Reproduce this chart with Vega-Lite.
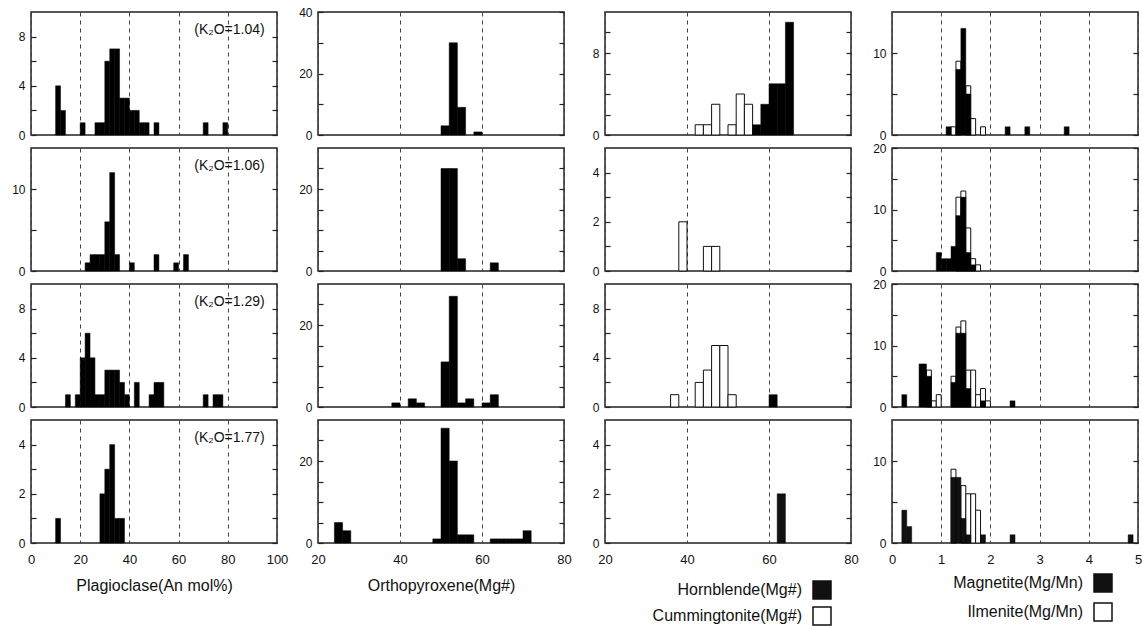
{
"$schema":"https://vega.github.io/schema/vega-lite/v6.json",
"padding":{"left":10,"top":5,"right":2,"bottom":2},
"background":"white",
"datasets":{"labels":[{"p":"pl1","t":"(K₂O=1.04)"},{"p":"pl2","t":"(K₂O=1.06)"},{"p":"pl3","t":"(K₂O=1.29)"},{"p":"pl4","t":"(K₂O=1.77)"}],
"d":[
{"p":"pl1","m":"Pl","x0":10,"x1":12,"n":4},{"p":"pl1","m":"Pl","x0":12,"x1":14,"n":2},{"p":"pl1","m":"Pl","x0":20,"x1":22,"n":1},{"p":"pl1","m":"Pl","x0":26,"x1":28,"n":1},{"p":"pl1","m":"Pl","x0":28,"x1":30,"n":1},{"p":"pl1","m":"Pl","x0":30,"x1":32,"n":6},{"p":"pl1","m":"Pl","x0":32,"x1":34,"n":7},{"p":"pl1","m":"Pl","x0":34,"x1":36,"n":7},{"p":"pl1","m":"Pl","x0":36,"x1":38,"n":3},{"p":"pl1","m":"Pl","x0":38,"x1":40,"n":3},{"p":"pl1","m":"Pl","x0":40,"x1":42,"n":2},{"p":"pl1","m":"Pl","x0":42,"x1":44,"n":2},{"p":"pl1","m":"Pl","x0":44,"x1":46,"n":1},{"p":"pl1","m":"Pl","x0":46,"x1":48,"n":1},{"p":"pl1","m":"Pl","x0":50,"x1":52,"n":1},{"p":"pl1","m":"Pl","x0":70,"x1":72,"n":1},{"p":"pl1","m":"Pl","x0":78,"x1":80,"n":1},
{"p":"pl2","m":"Pl","x0":22,"x1":24,"n":1},{"p":"pl2","m":"Pl","x0":24,"x1":26,"n":2},{"p":"pl2","m":"Pl","x0":26,"x1":28,"n":2},{"p":"pl2","m":"Pl","x0":28,"x1":30,"n":2},{"p":"pl2","m":"Pl","x0":30,"x1":32,"n":6},{"p":"pl2","m":"Pl","x0":32,"x1":34,"n":12},{"p":"pl2","m":"Pl","x0":34,"x1":36,"n":2},{"p":"pl2","m":"Pl","x0":40,"x1":42,"n":1},{"p":"pl2","m":"Pl","x0":50,"x1":52,"n":2},{"p":"pl2","m":"Pl","x0":58,"x1":60,"n":1},{"p":"pl2","m":"Pl","x0":62,"x1":64,"n":2},
{"p":"pl3","m":"Pl","x0":14,"x1":16,"n":1},{"p":"pl3","m":"Pl","x0":18,"x1":20,"n":1},{"p":"pl3","m":"Pl","x0":20,"x1":22,"n":4},{"p":"pl3","m":"Pl","x0":22,"x1":24,"n":6},{"p":"pl3","m":"Pl","x0":24,"x1":26,"n":4},{"p":"pl3","m":"Pl","x0":26,"x1":28,"n":1},{"p":"pl3","m":"Pl","x0":28,"x1":30,"n":1},{"p":"pl3","m":"Pl","x0":30,"x1":32,"n":3},{"p":"pl3","m":"Pl","x0":32,"x1":34,"n":3},{"p":"pl3","m":"Pl","x0":34,"x1":36,"n":3},{"p":"pl3","m":"Pl","x0":36,"x1":38,"n":2},{"p":"pl3","m":"Pl","x0":38,"x1":40,"n":1},{"p":"pl3","m":"Pl","x0":42,"x1":44,"n":2},{"p":"pl3","m":"Pl","x0":48,"x1":50,"n":1},{"p":"pl3","m":"Pl","x0":50,"x1":52,"n":2},{"p":"pl3","m":"Pl","x0":52,"x1":54,"n":2},{"p":"pl3","m":"Pl","x0":70,"x1":72,"n":1},{"p":"pl3","m":"Pl","x0":74,"x1":76,"n":1},{"p":"pl3","m":"Pl","x0":76,"x1":78,"n":1},
{"p":"pl4","m":"Pl","x0":10,"x1":12,"n":1},{"p":"pl4","m":"Pl","x0":28,"x1":30,"n":2},{"p":"pl4","m":"Pl","x0":30,"x1":32,"n":3},{"p":"pl4","m":"Pl","x0":32,"x1":34,"n":4},{"p":"pl4","m":"Pl","x0":34,"x1":36,"n":1},{"p":"pl4","m":"Pl","x0":36,"x1":38,"n":1},
{"p":"opx1","m":"Opx","x0":50,"x1":52,"n":3},{"p":"opx1","m":"Opx","x0":52,"x1":54,"n":30},{"p":"opx1","m":"Opx","x0":54,"x1":56,"n":9},{"p":"opx1","m":"Opx","x0":58,"x1":60,"n":1},
{"p":"opx2","m":"Opx","x0":50,"x1":52,"n":25},{"p":"opx2","m":"Opx","x0":52,"x1":54,"n":25},{"p":"opx2","m":"Opx","x0":54,"x1":56,"n":3},{"p":"opx2","m":"Opx","x0":62,"x1":64,"n":2},
{"p":"opx3","m":"Opx","x0":38,"x1":40,"n":1},{"p":"opx3","m":"Opx","x0":42,"x1":44,"n":2},{"p":"opx3","m":"Opx","x0":44,"x1":46,"n":1},{"p":"opx3","m":"Opx","x0":50,"x1":52,"n":11},{"p":"opx3","m":"Opx","x0":52,"x1":54,"n":27},{"p":"opx3","m":"Opx","x0":54,"x1":56,"n":1},{"p":"opx3","m":"Opx","x0":56,"x1":58,"n":2},{"p":"opx3","m":"Opx","x0":60,"x1":62,"n":1},{"p":"opx3","m":"Opx","x0":62,"x1":64,"n":3},
{"p":"opx4","m":"Opx","x0":24,"x1":26,"n":5},{"p":"opx4","m":"Opx","x0":26,"x1":28,"n":3},{"p":"opx4","m":"Opx","x0":48,"x1":50,"n":1},{"p":"opx4","m":"Opx","x0":50,"x1":52,"n":28},{"p":"opx4","m":"Opx","x0":52,"x1":54,"n":20},{"p":"opx4","m":"Opx","x0":54,"x1":56,"n":2},{"p":"opx4","m":"Opx","x0":56,"x1":58,"n":2},{"p":"opx4","m":"Opx","x0":62,"x1":64,"n":1},{"p":"opx4","m":"Opx","x0":64,"x1":66,"n":1},{"p":"opx4","m":"Opx","x0":66,"x1":68,"n":1},{"p":"opx4","m":"Opx","x0":68,"x1":70,"n":1},{"p":"opx4","m":"Opx","x0":70,"x1":72,"n":3},
{"p":"hb1","m":"Cummingtonite(Mg#)","x0":42,"x1":44,"n":1},{"p":"hb1","m":"Cummingtonite(Mg#)","x0":44,"x1":46,"n":1},{"p":"hb1","m":"Cummingtonite(Mg#)","x0":46,"x1":48,"n":3},{"p":"hb1","m":"Cummingtonite(Mg#)","x0":50,"x1":52,"n":1},{"p":"hb1","m":"Cummingtonite(Mg#)","x0":52,"x1":54,"n":4},{"p":"hb1","m":"Cummingtonite(Mg#)","x0":54,"x1":56,"n":3},
{"p":"hb1","m":"Hornblende(Mg#)","x0":56,"x1":58,"n":1},{"p":"hb1","m":"Hornblende(Mg#)","x0":58,"x1":60,"n":3},{"p":"hb1","m":"Hornblende(Mg#)","x0":60,"x1":62,"n":5},{"p":"hb1","m":"Hornblende(Mg#)","x0":62,"x1":64,"n":5},{"p":"hb1","m":"Hornblende(Mg#)","x0":64,"x1":66,"n":11},
{"p":"hb2","m":"Cummingtonite(Mg#)","x0":38,"x1":40,"n":2},{"p":"hb2","m":"Cummingtonite(Mg#)","x0":44,"x1":46,"n":1},{"p":"hb2","m":"Cummingtonite(Mg#)","x0":46,"x1":48,"n":1},
{"p":"hb3","m":"Cummingtonite(Mg#)","x0":36,"x1":38,"n":1},{"p":"hb3","m":"Cummingtonite(Mg#)","x0":42,"x1":44,"n":2},{"p":"hb3","m":"Cummingtonite(Mg#)","x0":44,"x1":46,"n":3},{"p":"hb3","m":"Cummingtonite(Mg#)","x0":46,"x1":48,"n":5},{"p":"hb3","m":"Cummingtonite(Mg#)","x0":48,"x1":50,"n":5},{"p":"hb3","m":"Cummingtonite(Mg#)","x0":50,"x1":52,"n":1},{"p":"hb3","m":"Hornblende(Mg#)","x0":60,"x1":62,"n":1},
{"p":"hb4","m":"Hornblende(Mg#)","x0":62,"x1":64,"n":2},
{"p":"mt1","m":"Magnetite(Mg/Mn)","x0":1.1,"x1":1.2,"n":1},{"p":"mt1","m":"Magnetite(Mg/Mn)","x0":1.3,"x1":1.4,"n":8},{"p":"mt1","m":"Magnetite(Mg/Mn)","x0":1.4,"x1":1.5,"n":13},{"p":"mt1","m":"Magnetite(Mg/Mn)","x0":1.5,"x1":1.6,"n":5},{"p":"mt1","m":"Magnetite(Mg/Mn)","x0":2.3,"x1":2.4,"n":1},{"p":"mt1","m":"Magnetite(Mg/Mn)","x0":2.7,"x1":2.8,"n":1},{"p":"mt1","m":"Magnetite(Mg/Mn)","x0":3.5,"x1":3.6,"n":1},
{"p":"mt1","m":"Ilmenite(Mg/Mn)","x0":1.2,"x1":1.3,"n":1},{"p":"mt1","m":"Ilmenite(Mg/Mn)","x0":1.3,"x1":1.4,"n":9},{"p":"mt1","m":"Ilmenite(Mg/Mn)","x0":1.5,"x1":1.6,"n":6},{"p":"mt1","m":"Ilmenite(Mg/Mn)","x0":1.6,"x1":1.7,"n":2},{"p":"mt1","m":"Ilmenite(Mg/Mn)","x0":1.8,"x1":1.9,"n":1},
{"p":"mt2","m":"Magnetite(Mg/Mn)","x0":0.9,"x1":1.0,"n":3},{"p":"mt2","m":"Magnetite(Mg/Mn)","x0":1.0,"x1":1.1,"n":2},{"p":"mt2","m":"Magnetite(Mg/Mn)","x0":1.1,"x1":1.2,"n":2},{"p":"mt2","m":"Magnetite(Mg/Mn)","x0":1.2,"x1":1.3,"n":4},{"p":"mt2","m":"Magnetite(Mg/Mn)","x0":1.3,"x1":1.4,"n":9},{"p":"mt2","m":"Magnetite(Mg/Mn)","x0":1.4,"x1":1.5,"n":12},{"p":"mt2","m":"Magnetite(Mg/Mn)","x0":1.5,"x1":1.6,"n":3},{"p":"mt2","m":"Magnetite(Mg/Mn)","x0":1.6,"x1":1.7,"n":1},
{"p":"mt2","m":"Ilmenite(Mg/Mn)","x0":1.3,"x1":1.4,"n":12},{"p":"mt2","m":"Ilmenite(Mg/Mn)","x0":1.4,"x1":1.5,"n":13},{"p":"mt2","m":"Ilmenite(Mg/Mn)","x0":1.5,"x1":1.6,"n":7},{"p":"mt2","m":"Ilmenite(Mg/Mn)","x0":1.6,"x1":1.7,"n":2},{"p":"mt2","m":"Ilmenite(Mg/Mn)","x0":1.7,"x1":1.8,"n":1},
{"p":"mt3","m":"Magnetite(Mg/Mn)","x0":0.2,"x1":0.3,"n":2},{"p":"mt3","m":"Magnetite(Mg/Mn)","x0":0.55,"x1":0.7,"n":7},{"p":"mt3","m":"Magnetite(Mg/Mn)","x0":0.7,"x1":0.8,"n":5},{"p":"mt3","m":"Magnetite(Mg/Mn)","x0":1.2,"x1":1.3,"n":4},{"p":"mt3","m":"Magnetite(Mg/Mn)","x0":1.3,"x1":1.4,"n":12},{"p":"mt3","m":"Magnetite(Mg/Mn)","x0":1.4,"x1":1.5,"n":12},{"p":"mt3","m":"Magnetite(Mg/Mn)","x0":1.5,"x1":1.6,"n":3},{"p":"mt3","m":"Magnetite(Mg/Mn)","x0":1.8,"x1":1.9,"n":1},{"p":"mt3","m":"Magnetite(Mg/Mn)","x0":2.4,"x1":2.5,"n":1},
{"p":"mt3","m":"Ilmenite(Mg/Mn)","x0":0.7,"x1":0.8,"n":6},{"p":"mt3","m":"Ilmenite(Mg/Mn)","x0":0.8,"x1":0.9,"n":1},{"p":"mt3","m":"Ilmenite(Mg/Mn)","x0":0.9,"x1":1.0,"n":2},{"p":"mt3","m":"Ilmenite(Mg/Mn)","x0":1.2,"x1":1.3,"n":5},{"p":"mt3","m":"Ilmenite(Mg/Mn)","x0":1.3,"x1":1.4,"n":13},{"p":"mt3","m":"Ilmenite(Mg/Mn)","x0":1.4,"x1":1.5,"n":14},{"p":"mt3","m":"Ilmenite(Mg/Mn)","x0":1.5,"x1":1.6,"n":6},{"p":"mt3","m":"Ilmenite(Mg/Mn)","x0":1.6,"x1":1.7,"n":6},{"p":"mt3","m":"Ilmenite(Mg/Mn)","x0":1.7,"x1":1.8,"n":2},{"p":"mt3","m":"Ilmenite(Mg/Mn)","x0":1.8,"x1":1.9,"n":3},{"p":"mt3","m":"Ilmenite(Mg/Mn)","x0":1.9,"x1":2.0,"n":1},
{"p":"mt4","m":"Magnetite(Mg/Mn)","x0":0.2,"x1":0.3,"n":4},{"p":"mt4","m":"Magnetite(Mg/Mn)","x0":0.3,"x1":0.4,"n":2},{"p":"mt4","m":"Magnetite(Mg/Mn)","x0":1.2,"x1":1.3,"n":8},{"p":"mt4","m":"Magnetite(Mg/Mn)","x0":1.3,"x1":1.4,"n":8},{"p":"mt4","m":"Magnetite(Mg/Mn)","x0":1.4,"x1":1.5,"n":3},{"p":"mt4","m":"Magnetite(Mg/Mn)","x0":1.5,"x1":1.6,"n":1},{"p":"mt4","m":"Magnetite(Mg/Mn)","x0":1.8,"x1":1.9,"n":1},{"p":"mt4","m":"Magnetite(Mg/Mn)","x0":2.4,"x1":2.5,"n":1},{"p":"mt4","m":"Magnetite(Mg/Mn)","x0":4.8,"x1":4.9,"n":1},
{"p":"mt4","m":"Ilmenite(Mg/Mn)","x0":1.2,"x1":1.3,"n":9},{"p":"mt4","m":"Ilmenite(Mg/Mn)","x0":1.4,"x1":1.5,"n":7},{"p":"mt4","m":"Ilmenite(Mg/Mn)","x0":1.5,"x1":1.6,"n":6},{"p":"mt4","m":"Ilmenite(Mg/Mn)","x0":1.6,"x1":1.7,"n":6},{"p":"mt4","m":"Ilmenite(Mg/Mn)","x0":1.7,"x1":1.8,"n":4}
]},
"data":{"name":"d"},
"columns":4,
"spacing":{"row":13,"column":41},
"bounds":"flush",
"concat":[
{"width":246,"height":123,"transform":[{"filter":"datum.p=='pl1'"}],"layer":[
 {"transform":[{"filter":"false"}],"mark":{"type":"bar","fill":"#fff","stroke":"#111","strokeWidth":1},"encoding":{"x":{"field":"x0","type":"quantitative","scale":{"domain":[0,100],"nice":false,"zero":false},"axis":{"values":[0,20,40,60,80,100],"labels":false,"title":null}},"x2":{"field":"x1"},"y":{"field":"n","type":"quantitative","scale":{"domain":[0,10],"nice":false},"axis":{"orient":"right","values":[0,2,4,6,8],"labels":false,"title":null}},"y2":{"datum":0}}},
 {"mark":{"type":"bar","fill":"#000","stroke":"#000","strokeWidth":0.5},"encoding":{"x":{"field":"x0","type":"quantitative","scale":{"domain":[0,100],"nice":false,"zero":false},"axis":{"values":[0,20,40,60,80,100],"labels":false,"title":null}},"x2":{"field":"x1"},"y":{"field":"n","type":"quantitative","scale":{"domain":[0,10],"nice":false},"axis":{"values":[0,2,4,6,8],"labelExpr":"datum.value % 4 == 0 ? datum.label : ''","title":null}},"y2":{"datum":0}}},
 {"data":{"name":"labels"},"transform":[{"filter":"datum.p=='pl1'"}],"mark":{"type":"text","align":"right","baseline":"middle","dy":18,"fontSize":14,"fill":"#111","fontWeight":"normal"},"encoding":{"x":{"datum":95,"type":"quantitative","axis":{"values":[0,20,40,60,80,100],"labels":false,"title":null}},"y":{"datum":10,"type":"quantitative","axis":null},"text":{"field":"t"}}}
],"resolve":{"axis":{"y":"independent"}}},
{"width":246,"height":123,"transform":[{"filter":"datum.p=='opx1'"}],"layer":[
 {"transform":[{"filter":"false"}],"mark":{"type":"bar","fill":"#fff","stroke":"#111","strokeWidth":1},"encoding":{"x":{"field":"x0","type":"quantitative","scale":{"domain":[20,80],"nice":false,"zero":false},"axis":{"values":[20,40,60,80],"labels":false,"title":null}},"x2":{"field":"x1"},"y":{"field":"n","type":"quantitative","scale":{"domain":[0,40],"nice":false},"axis":{"orient":"right","values":[0,10,20,30,40],"labels":false,"title":null}},"y2":{"datum":0}}},
 {"mark":{"type":"bar","fill":"#000","stroke":"#000","strokeWidth":0.5},"encoding":{"x":{"field":"x0","type":"quantitative","scale":{"domain":[20,80],"nice":false,"zero":false},"axis":{"values":[20,40,60,80],"labels":false,"title":null}},"x2":{"field":"x1"},"y":{"field":"n","type":"quantitative","scale":{"domain":[0,40],"nice":false},"axis":{"values":[0,10,20,30,40],"labelExpr":"datum.value % 20 == 0 ? datum.label : ''","title":null}},"y2":{"datum":0}}}
],"resolve":{"axis":{"y":"independent"}}},
{"width":246,"height":123,"transform":[{"filter":"datum.p=='hb1'"}],"layer":[
 {"transform":[{"filter":"datum.m=='Cummingtonite(Mg#)'"}],"mark":{"type":"bar","fill":"#fff","stroke":"#111","strokeWidth":1},"encoding":{"x":{"field":"x0","type":"quantitative","scale":{"domain":[20,80],"nice":false,"zero":false},"axis":{"values":[20,40,60,80],"labels":false,"title":null}},"x2":{"field":"x1"},"y":{"field":"n","type":"quantitative","scale":{"domain":[0,12],"nice":false},"axis":{"orient":"right","values":[0,2,4,6,8,10],"labels":false,"title":null}},"y2":{"datum":0}}},
 {"transform":[{"filter":"datum.m=='Hornblende(Mg#)'"}],"mark":{"type":"bar","fill":"#000","stroke":"#000","strokeWidth":0.5},"encoding":{"x":{"field":"x0","type":"quantitative","scale":{"domain":[20,80],"nice":false,"zero":false},"axis":{"values":[20,40,60,80],"labels":false,"title":null}},"x2":{"field":"x1"},"y":{"field":"n","type":"quantitative","scale":{"domain":[0,12],"nice":false},"axis":{"values":[0,2,4,6,8,10],"labelExpr":"datum.value % 8 == 0 ? datum.label : ''","title":null}},"y2":{"datum":0}}}
],"resolve":{"axis":{"y":"independent"}}},
{"width":246,"height":123,"transform":[{"filter":"datum.p=='mt1'"}],"layer":[
 {"transform":[{"filter":"datum.m=='Ilmenite(Mg/Mn)'"}],"mark":{"type":"bar","fill":"#fff","stroke":"#111","strokeWidth":1},"encoding":{"x":{"field":"x0","type":"quantitative","scale":{"domain":[0,5],"nice":false,"zero":false},"axis":{"values":[0,1,2,3,4,5],"labels":false,"title":null}},"x2":{"field":"x1"},"y":{"field":"n","type":"quantitative","scale":{"domain":[0,15],"nice":false},"axis":{"orient":"right","values":[0,5,10],"labels":false,"title":null}},"y2":{"datum":0}}},
 {"transform":[{"filter":"datum.m=='Magnetite(Mg/Mn)'"}],"mark":{"type":"bar","fill":"#000","stroke":"#000","strokeWidth":0.5},"encoding":{"x":{"field":"x0","type":"quantitative","scale":{"domain":[0,5],"nice":false,"zero":false},"axis":{"values":[0,1,2,3,4,5],"labels":false,"title":null}},"x2":{"field":"x1"},"y":{"field":"n","type":"quantitative","scale":{"domain":[0,15],"nice":false},"axis":{"values":[0,5,10],"labelExpr":"datum.value % 10 == 0 ? datum.label : ''","title":null}},"y2":{"datum":0}}}
],"resolve":{"axis":{"y":"independent"}}},

{"width":246,"height":123,"transform":[{"filter":"datum.p=='pl2'"}],"layer":[
 {"transform":[{"filter":"false"}],"mark":{"type":"bar","fill":"#fff","stroke":"#111","strokeWidth":1},"encoding":{"x":{"field":"x0","type":"quantitative","scale":{"domain":[0,100],"nice":false,"zero":false},"axis":{"values":[0,20,40,60,80,100],"labels":false,"title":null}},"x2":{"field":"x1"},"y":{"field":"n","type":"quantitative","scale":{"domain":[0,15],"nice":false},"axis":{"orient":"right","values":[0,5,10],"labels":false,"title":null}},"y2":{"datum":0}}},
 {"mark":{"type":"bar","fill":"#000","stroke":"#000","strokeWidth":0.5},"encoding":{"x":{"field":"x0","type":"quantitative","scale":{"domain":[0,100],"nice":false,"zero":false},"axis":{"values":[0,20,40,60,80,100],"labels":false,"title":null}},"x2":{"field":"x1"},"y":{"field":"n","type":"quantitative","scale":{"domain":[0,15],"nice":false},"axis":{"values":[0,5,10],"labelExpr":"datum.value % 10 == 0 ? datum.label : ''","title":null}},"y2":{"datum":0}}},
 {"data":{"name":"labels"},"transform":[{"filter":"datum.p=='pl2'"}],"mark":{"type":"text","align":"right","baseline":"middle","dy":18,"fontSize":14,"fill":"#111","fontWeight":"normal"},"encoding":{"x":{"datum":95,"type":"quantitative","axis":{"values":[0,20,40,60,80,100],"labels":false,"title":null}},"y":{"datum":15,"type":"quantitative","axis":null},"text":{"field":"t"}}}
],"resolve":{"axis":{"y":"independent"}}},
{"width":246,"height":123,"transform":[{"filter":"datum.p=='opx2'"}],"layer":[
 {"transform":[{"filter":"false"}],"mark":{"type":"bar","fill":"#fff","stroke":"#111","strokeWidth":1},"encoding":{"x":{"field":"x0","type":"quantitative","scale":{"domain":[20,80],"nice":false,"zero":false},"axis":{"values":[20,40,60,80],"labels":false,"title":null}},"x2":{"field":"x1"},"y":{"field":"n","type":"quantitative","scale":{"domain":[0,30],"nice":false},"axis":{"orient":"right","values":[0,5,10,15,20,25],"labels":false,"title":null}},"y2":{"datum":0}}},
 {"mark":{"type":"bar","fill":"#000","stroke":"#000","strokeWidth":0.5},"encoding":{"x":{"field":"x0","type":"quantitative","scale":{"domain":[20,80],"nice":false,"zero":false},"axis":{"values":[20,40,60,80],"labels":false,"title":null}},"x2":{"field":"x1"},"y":{"field":"n","type":"quantitative","scale":{"domain":[0,30],"nice":false},"axis":{"values":[0,5,10,15,20,25],"labelExpr":"datum.value % 20 == 0 ? datum.label : ''","title":null}},"y2":{"datum":0}}}
],"resolve":{"axis":{"y":"independent"}}},
{"width":246,"height":123,"transform":[{"filter":"datum.p=='hb2'"}],"layer":[
 {"transform":[{"filter":"datum.m=='Cummingtonite(Mg#)'"}],"mark":{"type":"bar","fill":"#fff","stroke":"#111","strokeWidth":1},"encoding":{"x":{"field":"x0","type":"quantitative","scale":{"domain":[20,80],"nice":false,"zero":false},"axis":{"values":[20,40,60,80],"labels":false,"title":null}},"x2":{"field":"x1"},"y":{"field":"n","type":"quantitative","scale":{"domain":[0,5],"nice":false},"axis":{"orient":"right","values":[0,1,2,3,4],"labels":false,"title":null}},"y2":{"datum":0}}},
 {"transform":[{"filter":"datum.m=='Hornblende(Mg#)'"}],"mark":{"type":"bar","fill":"#000","stroke":"#000","strokeWidth":0.5},"encoding":{"x":{"field":"x0","type":"quantitative","scale":{"domain":[20,80],"nice":false,"zero":false},"axis":{"values":[20,40,60,80],"labels":false,"title":null}},"x2":{"field":"x1"},"y":{"field":"n","type":"quantitative","scale":{"domain":[0,5],"nice":false},"axis":{"values":[0,1,2,3,4],"labelExpr":"datum.value % 2 == 0 ? datum.label : ''","title":null}},"y2":{"datum":0}}}
],"resolve":{"axis":{"y":"independent"}}},
{"width":246,"height":123,"transform":[{"filter":"datum.p=='mt2'"}],"layer":[
 {"transform":[{"filter":"datum.m=='Ilmenite(Mg/Mn)'"}],"mark":{"type":"bar","fill":"#fff","stroke":"#111","strokeWidth":1},"encoding":{"x":{"field":"x0","type":"quantitative","scale":{"domain":[0,5],"nice":false,"zero":false},"axis":{"values":[0,1,2,3,4,5],"labels":false,"title":null}},"x2":{"field":"x1"},"y":{"field":"n","type":"quantitative","scale":{"domain":[0,20],"nice":false},"axis":{"orient":"right","values":[0,5,10,15,20],"labels":false,"title":null}},"y2":{"datum":0}}},
 {"transform":[{"filter":"datum.m=='Magnetite(Mg/Mn)'"}],"mark":{"type":"bar","fill":"#000","stroke":"#000","strokeWidth":0.5},"encoding":{"x":{"field":"x0","type":"quantitative","scale":{"domain":[0,5],"nice":false,"zero":false},"axis":{"values":[0,1,2,3,4,5],"labels":false,"title":null}},"x2":{"field":"x1"},"y":{"field":"n","type":"quantitative","scale":{"domain":[0,20],"nice":false},"axis":{"values":[0,5,10,15,20],"labelExpr":"datum.value % 10 == 0 ? datum.label : ''","title":null}},"y2":{"datum":0}}}
],"resolve":{"axis":{"y":"independent"}}},

{"width":246,"height":123,"transform":[{"filter":"datum.p=='pl3'"}],"layer":[
 {"transform":[{"filter":"false"}],"mark":{"type":"bar","fill":"#fff","stroke":"#111","strokeWidth":1},"encoding":{"x":{"field":"x0","type":"quantitative","scale":{"domain":[0,100],"nice":false,"zero":false},"axis":{"values":[0,20,40,60,80,100],"labels":false,"title":null}},"x2":{"field":"x1"},"y":{"field":"n","type":"quantitative","scale":{"domain":[0,10],"nice":false},"axis":{"orient":"right","values":[0,2,4,6,8],"labels":false,"title":null}},"y2":{"datum":0}}},
 {"mark":{"type":"bar","fill":"#000","stroke":"#000","strokeWidth":0.5},"encoding":{"x":{"field":"x0","type":"quantitative","scale":{"domain":[0,100],"nice":false,"zero":false},"axis":{"values":[0,20,40,60,80,100],"labels":false,"title":null}},"x2":{"field":"x1"},"y":{"field":"n","type":"quantitative","scale":{"domain":[0,10],"nice":false},"axis":{"values":[0,2,4,6,8],"labelExpr":"datum.value % 4 == 0 ? datum.label : ''","title":null}},"y2":{"datum":0}}},
 {"data":{"name":"labels"},"transform":[{"filter":"datum.p=='pl3'"}],"mark":{"type":"text","align":"right","baseline":"middle","dy":18,"fontSize":14,"fill":"#111","fontWeight":"normal"},"encoding":{"x":{"datum":95,"type":"quantitative","axis":{"values":[0,20,40,60,80,100],"labels":false,"title":null}},"y":{"datum":10,"type":"quantitative","axis":null},"text":{"field":"t"}}}
],"resolve":{"axis":{"y":"independent"}}},
{"width":246,"height":123,"transform":[{"filter":"datum.p=='opx3'"}],"layer":[
 {"transform":[{"filter":"false"}],"mark":{"type":"bar","fill":"#fff","stroke":"#111","strokeWidth":1},"encoding":{"x":{"field":"x0","type":"quantitative","scale":{"domain":[20,80],"nice":false,"zero":false},"axis":{"values":[20,40,60,80],"labels":false,"title":null}},"x2":{"field":"x1"},"y":{"field":"n","type":"quantitative","scale":{"domain":[0,30],"nice":false},"axis":{"orient":"right","values":[0,5,10,15,20,25],"labels":false,"title":null}},"y2":{"datum":0}}},
 {"mark":{"type":"bar","fill":"#000","stroke":"#000","strokeWidth":0.5},"encoding":{"x":{"field":"x0","type":"quantitative","scale":{"domain":[20,80],"nice":false,"zero":false},"axis":{"values":[20,40,60,80],"labels":false,"title":null}},"x2":{"field":"x1"},"y":{"field":"n","type":"quantitative","scale":{"domain":[0,30],"nice":false},"axis":{"values":[0,5,10,15,20,25],"labelExpr":"datum.value % 20 == 0 ? datum.label : ''","title":null}},"y2":{"datum":0}}}
],"resolve":{"axis":{"y":"independent"}}},
{"width":246,"height":123,"transform":[{"filter":"datum.p=='hb3'"}],"layer":[
 {"transform":[{"filter":"datum.m=='Cummingtonite(Mg#)'"}],"mark":{"type":"bar","fill":"#fff","stroke":"#111","strokeWidth":1},"encoding":{"x":{"field":"x0","type":"quantitative","scale":{"domain":[20,80],"nice":false,"zero":false},"axis":{"values":[20,40,60,80],"labels":false,"title":null}},"x2":{"field":"x1"},"y":{"field":"n","type":"quantitative","scale":{"domain":[0,10],"nice":false},"axis":{"orient":"right","values":[0,2,4,6,8],"labels":false,"title":null}},"y2":{"datum":0}}},
 {"transform":[{"filter":"datum.m=='Hornblende(Mg#)'"}],"mark":{"type":"bar","fill":"#000","stroke":"#000","strokeWidth":0.5},"encoding":{"x":{"field":"x0","type":"quantitative","scale":{"domain":[20,80],"nice":false,"zero":false},"axis":{"values":[20,40,60,80],"labels":false,"title":null}},"x2":{"field":"x1"},"y":{"field":"n","type":"quantitative","scale":{"domain":[0,10],"nice":false},"axis":{"values":[0,2,4,6,8],"labelExpr":"datum.value % 4 == 0 ? datum.label : ''","title":null}},"y2":{"datum":0}}}
],"resolve":{"axis":{"y":"independent"}}},
{"width":246,"height":123,"transform":[{"filter":"datum.p=='mt3'"}],"layer":[
 {"transform":[{"filter":"datum.m=='Ilmenite(Mg/Mn)'"}],"mark":{"type":"bar","fill":"#fff","stroke":"#111","strokeWidth":1},"encoding":{"x":{"field":"x0","type":"quantitative","scale":{"domain":[0,5],"nice":false,"zero":false},"axis":{"values":[0,1,2,3,4,5],"labels":false,"title":null}},"x2":{"field":"x1"},"y":{"field":"n","type":"quantitative","scale":{"domain":[0,20],"nice":false},"axis":{"orient":"right","values":[0,5,10,15,20],"labels":false,"title":null}},"y2":{"datum":0}}},
 {"transform":[{"filter":"datum.m=='Magnetite(Mg/Mn)'"}],"mark":{"type":"bar","fill":"#000","stroke":"#000","strokeWidth":0.5},"encoding":{"x":{"field":"x0","type":"quantitative","scale":{"domain":[0,5],"nice":false,"zero":false},"axis":{"values":[0,1,2,3,4,5],"labels":false,"title":null}},"x2":{"field":"x1"},"y":{"field":"n","type":"quantitative","scale":{"domain":[0,20],"nice":false},"axis":{"values":[0,5,10,15,20],"labelExpr":"datum.value % 10 == 0 ? datum.label : ''","title":null}},"y2":{"datum":0}}}
],"resolve":{"axis":{"y":"independent"}}},

{"width":246,"height":123,"transform":[{"filter":"datum.p=='pl4'"}],"layer":[
 {"transform":[{"filter":"false"}],"mark":{"type":"bar","fill":"#fff","stroke":"#111","strokeWidth":1},"encoding":{"x":{"field":"x0","type":"quantitative","scale":{"domain":[0,100],"nice":false,"zero":false},"axis":{"values":[0,20,40,60,80,100],"title":"Plagioclase(An mol%)"}},"x2":{"field":"x1"},"y":{"field":"n","type":"quantitative","scale":{"domain":[0,5],"nice":false},"axis":{"orient":"right","values":[0,1,2,3,4],"labels":false,"title":null}},"y2":{"datum":0}}},
 {"mark":{"type":"bar","fill":"#000","stroke":"#000","strokeWidth":0.5},"encoding":{"x":{"field":"x0","type":"quantitative","scale":{"domain":[0,100],"nice":false,"zero":false},"axis":{"values":[0,20,40,60,80,100],"title":"Plagioclase(An mol%)"}},"x2":{"field":"x1"},"y":{"field":"n","type":"quantitative","scale":{"domain":[0,5],"nice":false},"axis":{"values":[0,1,2,3,4],"labelExpr":"datum.value % 2 == 0 ? datum.label : ''","title":null}},"y2":{"datum":0}}},
 {"data":{"name":"labels"},"transform":[{"filter":"datum.p=='pl4'"}],"mark":{"type":"text","align":"right","baseline":"middle","dy":18,"fontSize":14,"fill":"#111","fontWeight":"normal"},"encoding":{"x":{"datum":95,"type":"quantitative","axis":{"values":[0,20,40,60,80,100],"title":"Plagioclase(An mol%)"}},"y":{"datum":5,"type":"quantitative","axis":null},"text":{"field":"t"}}}
],"resolve":{"axis":{"y":"independent"}}},
{"width":246,"height":123,"transform":[{"filter":"datum.p=='opx4'"}],"layer":[
 {"transform":[{"filter":"false"}],"mark":{"type":"bar","fill":"#fff","stroke":"#111","strokeWidth":1},"encoding":{"x":{"field":"x0","type":"quantitative","scale":{"domain":[20,80],"nice":false,"zero":false},"axis":{"values":[20,40,60,80],"title":"Orthopyroxene(Mg#)"}},"x2":{"field":"x1"},"y":{"field":"n","type":"quantitative","scale":{"domain":[0,30],"nice":false},"axis":{"orient":"right","values":[0,5,10,15,20,25],"labels":false,"title":null}},"y2":{"datum":0}}},
 {"mark":{"type":"bar","fill":"#000","stroke":"#000","strokeWidth":0.5},"encoding":{"x":{"field":"x0","type":"quantitative","scale":{"domain":[20,80],"nice":false,"zero":false},"axis":{"values":[20,40,60,80],"title":"Orthopyroxene(Mg#)"}},"x2":{"field":"x1"},"y":{"field":"n","type":"quantitative","scale":{"domain":[0,30],"nice":false},"axis":{"values":[0,5,10,15,20,25],"labelExpr":"datum.value % 20 == 0 ? datum.label : ''","title":null}},"y2":{"datum":0}}}
],"resolve":{"axis":{"y":"independent"}}},
{"width":246,"height":123,"transform":[{"filter":"datum.p=='hb4'"}],"layer":[
 {"transform":[{"filter":"datum.m=='Cummingtonite(Mg#)'"}],"mark":{"type":"bar","fill":"#fff","stroke":"#111","strokeWidth":1},"encoding":{"x":{"field":"x0","type":"quantitative","scale":{"domain":[20,80],"nice":false,"zero":false},"axis":{"values":[20,40,60,80],"title":null}},"x2":{"field":"x1"},"y":{"field":"n","type":"quantitative","scale":{"domain":[0,5],"nice":false},"axis":{"orient":"right","values":[0,1,2,3,4],"labels":false,"title":null}},"y2":{"datum":0}}},
 {"transform":[{"filter":"datum.m=='Hornblende(Mg#)'"}],"mark":{"type":"bar","stroke":"#000","strokeWidth":0.5},"encoding":{"x":{"field":"x0","type":"quantitative","scale":{"domain":[20,80],"nice":false,"zero":false},"axis":{"values":[20,40,60,80],"title":null}},"x2":{"field":"x1"},"y":{"field":"n","type":"quantitative","scale":{"domain":[0,5],"nice":false},"axis":{"values":[0,1,2,3,4],"labelExpr":"datum.value % 2 == 0 ? datum.label : ''","title":null}},"y2":{"datum":0},
  "fill":{"field":"m","type":"nominal","scale":{"domain":["Hornblende(Mg#)","Cummingtonite(Mg#)"],"range":["#111","#fff"]},"legend":{"orient":"none","legendX":207,"legendY":160,"title":null,"symbolType":"square","symbolSize":324,"symbolStrokeColor":"#111","symbolStrokeWidth":1.5,"symbolOpacity":1,"labelFontSize":16,"labelColor":"#111","labelAlign":"right","labelOffset":-30,"rowPadding":2,"padding":0,"direction":"vertical","labelLimit":0}}}}
],"resolve":{"axis":{"y":"independent"}}},
{"width":246,"height":123,"transform":[{"filter":"datum.p=='mt4'"}],"layer":[
 {"transform":[{"filter":"datum.m=='Ilmenite(Mg/Mn)'"}],"mark":{"type":"bar","fill":"#fff","stroke":"#111","strokeWidth":1},"encoding":{"x":{"field":"x0","type":"quantitative","scale":{"domain":[0,5],"nice":false,"zero":false},"axis":{"values":[0,1,2,3,4,5],"title":null}},"x2":{"field":"x1"},"y":{"field":"n","type":"quantitative","scale":{"domain":[0,15],"nice":false},"axis":{"orient":"right","values":[0,5,10],"labels":false,"title":null}},"y2":{"datum":0}}},
 {"transform":[{"filter":"datum.m=='Magnetite(Mg/Mn)'"}],"mark":{"type":"bar","stroke":"#000","strokeWidth":0.5},"encoding":{"x":{"field":"x0","type":"quantitative","scale":{"domain":[0,5],"nice":false,"zero":false},"axis":{"values":[0,1,2,3,4,5],"title":null}},"x2":{"field":"x1"},"y":{"field":"n","type":"quantitative","scale":{"domain":[0,15],"nice":false},"axis":{"values":[0,5,10],"labelExpr":"datum.value % 10 == 0 ? datum.label : ''","title":null}},"y2":{"datum":0},
  "fill":{"field":"m","type":"nominal","scale":{"domain":["Magnetite(Mg/Mn)","Ilmenite(Mg/Mn)"],"range":["#111","#fff"]},"legend":{"orient":"none","legendX":201,"legendY":153,"title":null,"symbolType":"square","symbolSize":324,"symbolStrokeColor":"#111","symbolStrokeWidth":1.5,"symbolOpacity":1,"labelFontSize":16,"labelColor":"#111","labelAlign":"right","labelOffset":-30,"rowPadding":5,"padding":0,"direction":"vertical","labelLimit":0}}}}
],"resolve":{"axis":{"y":"independent"}}}
],
"resolve":{"scale":{"fill":"independent"},"legend":{"fill":"independent"}},
"config":{
 "font":"Liberation Sans",
 "view":{"stroke":"#222","strokeWidth":1.5},
 "axis":{"domain":false,"labelFont":"Liberation Sans","labelFontSize":13,"labelColor":"#111","titleFont":"Liberation Sans","titleFontSize":16,"titleFontWeight":"normal","titleColor":"#111","labelOverlap":false},
 "axisX":{"ticks":false,"grid":true,"gridDash":[4,4],"gridColor":"#444","gridWidth":1,"labelPadding":10,"titlePadding":11,"labelFlush":false},
 "axisY":{"grid":false,"ticks":true,"tickSize":-5,"tickColor":"#222","tickWidth":1.2,"labelPadding":11,"labelFontSize":12},
 "text":{"font":"Liberation Sans"},
 "legend":{"labelFont":"Liberation Sans"}
}
}
